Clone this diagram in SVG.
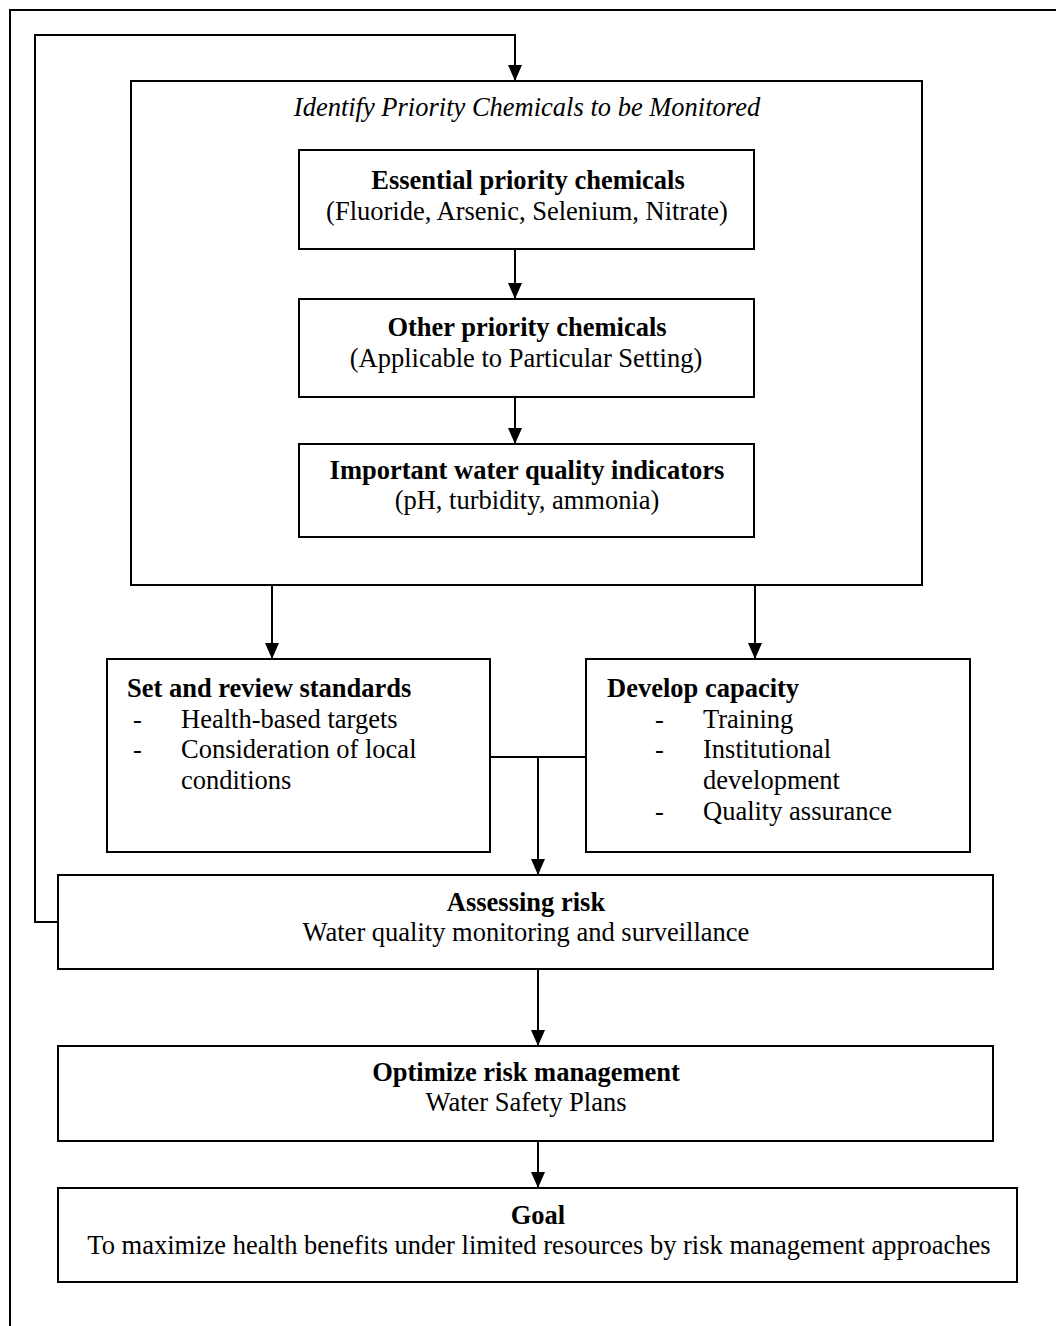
<svg xmlns="http://www.w3.org/2000/svg" width="1056" height="1326" viewBox="0 0 1056 1326">
<style>
.box{fill:none;stroke:#000;stroke-width:2}
.ln{fill:none;stroke:#000;stroke-width:2}
text{font-family:"Liberation Serif","Times New Roman",serif;font-size:26.5px;fill:#000}
.b{font-weight:bold}
.c{text-anchor:middle}
.i{font-style:italic}
</style>
<defs>
<marker id="ah" markerWidth="16" markerHeight="14" refX="16" refY="7" orient="auto" markerUnits="userSpaceOnUse" viewBox="0 0 16 14">
<path d="M0,0 L16,7 L0,14 Z" fill="#000"/>
</marker>
</defs>
<rect x="0" y="0" width="1056" height="1326" fill="#fff"/>
<rect x="10" y="10" width="1060" height="1330" class="box"/>
<g id="main">
<rect x="131" y="81" width="791" height="504" class="box"/>
<text x="527" y="116" class="c i">Identify Priority Chemicals to be Monitored</text>
</g>
<g id="essential">
<rect x="299" y="150" width="455" height="99" class="box"/>
<text x="528" y="189" class="c b">Essential priority chemicals</text>
<text x="527" y="220" class="c">(Fluoride, Arsenic, Selenium, Nitrate)</text>
</g>
<g id="other">
<rect x="299" y="299" width="455" height="98" class="box"/>
<text x="527" y="336" class="c b">Other priority chemicals</text>
<text x="526" y="367" class="c">(Applicable to Particular Setting)</text>
</g>
<g id="indicators">
<rect x="299" y="444" width="455" height="93" class="box"/>
<text x="527" y="479" class="c b">Important water quality indicators</text>
<text x="527" y="509" class="c">(pH, turbidity, ammonia)</text>
</g>
<g id="standards">
<rect x="107" y="659" width="383" height="193" class="box"/>
<text x="127" y="697" class="b">Set and review standards</text>
<text x="133" y="728">-</text>
<text x="181" y="728">Health-based targets</text>
<text x="133" y="758">-</text>
<text x="181" y="758">Consideration of local</text>
<text x="181" y="789">conditions</text>
</g>
<g id="capacity">
<rect x="586" y="659" width="384" height="193" class="box"/>
<text x="607" y="697" class="b">Develop capacity</text>
<text x="655" y="728">-</text>
<text x="703" y="728">Training</text>
<text x="655" y="758">-</text>
<text x="703" y="758">Institutional</text>
<text x="703" y="789">development</text>
<text x="655" y="820">-</text>
<text x="703" y="820">Quality assurance</text>
</g>
<g id="assessing">
<rect x="58" y="875" width="935" height="94" class="box"/>
<text x="526" y="911" class="c b">Assessing risk</text>
<text x="526" y="941" class="c">Water quality monitoring and surveillance</text>
</g>
<g id="optimize">
<rect x="58" y="1046" width="935" height="95" class="box"/>
<text x="526" y="1081" class="c b">Optimize risk management</text>
<text x="526" y="1111" class="c">Water Safety Plans</text>
</g>
<g id="goal">
<rect x="58" y="1188" width="959" height="94" class="box"/>
<text x="538" y="1224" class="c b">Goal</text>
<text x="539" y="1254" class="c">To maximize health benefits under limited resources by risk management approaches</text>
</g>
<g id="connectors">
<polyline points="58,922 35,922 35,35 515,35 515,81" class="ln" marker-end="url(#ah)"/>
<line x1="515" y1="249" x2="515" y2="299" class="ln" marker-end="url(#ah)"/>
<line x1="515" y1="397" x2="515" y2="444" class="ln" marker-end="url(#ah)"/>
<line x1="272" y1="585" x2="272" y2="659" class="ln" marker-end="url(#ah)"/>
<line x1="755" y1="585" x2="755" y2="659" class="ln" marker-end="url(#ah)"/>
<line x1="490" y1="757" x2="586" y2="757" class="ln"/>
<line x1="538" y1="757" x2="538" y2="875" class="ln" marker-end="url(#ah)"/>
<line x1="538" y1="969" x2="538" y2="1046" class="ln" marker-end="url(#ah)"/>
<line x1="538" y1="1141" x2="538" y2="1188" class="ln" marker-end="url(#ah)"/>
</g>
</svg>
